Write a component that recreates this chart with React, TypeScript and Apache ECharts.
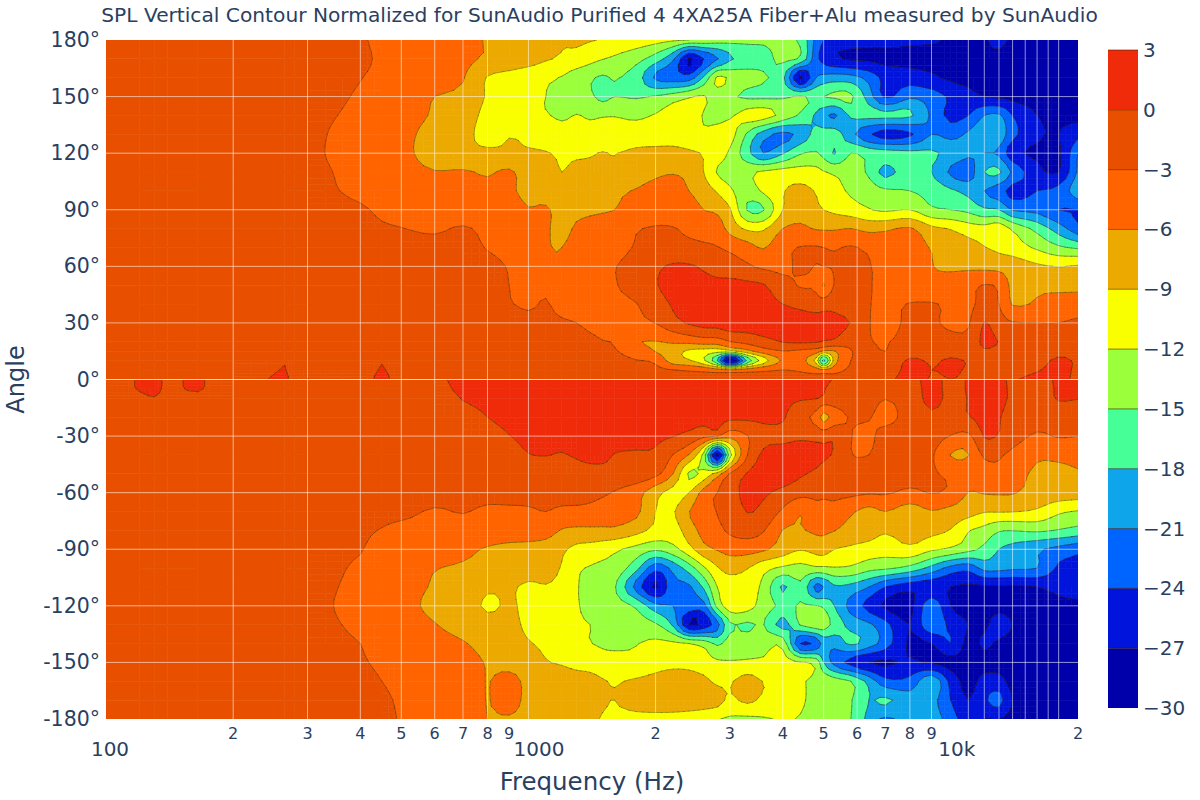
import React, { useEffect, useRef } from "react";
import * as echarts from "echarts";

const TITLE = "SPL Vertical Contour Normalized for SunAudio Purified 4 4XA25A Fiber+Alu measured by SunAudio";
const FONT = "DejaVu Sans";
const INK = "#2a3f5f";

const freqs = [100,120,130,140,165,200,265,280,300,400,450,500,
  600,700,800,900,1000,1100,1200,1300,1400,1500,1600,1800,
  2000,2200,2400,2600,2800,3000,3300,3600,4000,
  4400,4800,5000,5300,5800,6400,7000,8000,
  9000,10000,11000,12000,13000,14000,16000,18000,20000];

const angles = [180,170,160,150,140,130,120,110,100,90,80,70,60,50,40,30,20,15,10,5,0,0,-5,-10,-20,-30,-40,-50,-60,-70,-80,-90,-100,-110,-120,-130,-140,-150,-160,-170,-180];

const levels = [3,0,-3,-6,-9,-12,-15,-18,-21,-24,-27,-30];
const bandColors = ["#f02b0a","#e85000","#ff6400","#ecaa00","#faff00","#9bff3c","#46ff96","#0fa5eb","#0064ff","#0014dc","#0000aa"];

const gridFreqs = [200,300,400,500,600,700,800,1000,2000,3000,4000,5000,6000,7000,8000,9000,11000,12000,13000,14000,15000,16000,17000,18000];
const gridAngles = [-150,-120,-90,-60,-30,0,30,60,90,120,150];
const minorLabelFreqs = [200,300,400,500,600,700,800,900,2000,3000,4000,5000,6000,7000,8000,9000,20000];

const p180 = [-1.4,-1.4,-1.4,-1.4,-1.5,-1.6,-1.8,-1.9,-2,-2.8,-3.5,-4.2, -5,-5.6,-6.1,-6.6,-7.2,-7.8,-8.8,-8.5,-8.8,-9.2,-9.6, -10.2,-10.8,-11.5,-12,-12.6,-13.4,-14,-14.4,-14.6, -14.6,-15.5,-22,-24,-25.5,-25.8,-26,-26, -26.4,-26.8,-27.2,-27.5,-27.2,-26.5,-27.3,-27.6,-27.6,-27.8];
const p170 = [-1.4,-1.4,-1.4,-1.4,-1.5,-1.6,-1.8,-1.9,-2,-2.7,-3.3,-4, -4.7,-5.4,-6.4,-7.1,-7.8,-8.7,-9.4,-10,-11,-11.9,-12.5, -14,-16.5,-20.5,-27.2,-24,-21.2,-18.5,-16.5,-15.8, -14.5,-15.5,-23,-25,-26.5,-27.3,-27.6,-27.8, -27.8,-27.5,-27,-27.5,-27.3,-27.5,-27.7,-27.8,-28,-28];
const p160 = [-1.4,-1.4,-1.4,-1.4,-1.5,-1.6,-1.8,-1.9,-2.1,-2.95,-3.4,-3.8, -4.6,-5.8,-9.2,-10,-10.8,-11.5,-12.2,-13.6,-14.6,-15.4,-14.8, -16.5,-21.5,-22.5,-22.5,-17.5,-11.5,-12.5,-13.8,-14.7, -17,-27.5,-21,-20,-19.5,-19.8,-22,-24.8, -25.5,-26.5,-27.5,-27.8,-28,-28,-28,-28,-28,-28];
const p150 = [-1.4,-1.4,-1.4,-1.4,-1.5,-1.6,-1.9,-2,-2.2,-3.2,-3.7,-4.5, -6,-6.8,-9.3,-10.3,-11.3,-12,-12.8,-13.5,-14.5,-15.8,-15, -15.3,-14.7,-13.5,-12.3,-11.8,-13.5,-14.5,-15.5,-15.6, -15.4,-14.8,-15.5,-15,-14.5,-14.5,-19.5,-24.5, -21.5,-22.5,-24.5,-26,-27,-27.5,-27.8,-28,-28,-28];
const p140 = [-1.5,-1.5,-1.5,-1.5,-1.6,-1.7,-2,-2.2,-2.4,-3.5,-4.2,-4.9, -6.3,-7.6,-9.8,-10.8,-11.7,-11.8,-12.5,-11.9,-12.4,-12.2,-12.1, -12.4,-11.8,-10.6,-10.5,-12.2,-13,-12.4,-10.8,-10.6, -13,-15.5,-18.5,-20,-21.5,-17.5,-17,-17, -17.5,-21.5,-24.8,-24,-21,-20.5,-24,-27,-27.5,-27.8];
const p130 = [-1.5,-1.5,-1.5,-1.5,-1.6,-1.7,-2.1,-2.3,-2.5,-3.9,-4.6,-5.3, -6.9,-8.2,-9.8,-9.1,-9.5,-10,-10.5,-10.7,-10.8,-10.6,-11, -11,-10.5,-10,-10.5,-11.5,-10.8,-10.8,-15.5,-19.5, -21.8,-20,-17,-16.8,-16.5,-20,-23.5,-25.5, -24.5,-21,-22,-20.5,-19,-19,-23,-26.5,-27,-25];
const p120 = [-1.5,-1.5,-1.5,-1.5,-1.6,-1.8,-2.2,-2.4,-2.6,-3.9,-4.7,-5.4, -7,-8.3,-8.5,-8.6,-8.8,-8.9,-9.3,-9.4,-9.2,-8.9,-9.1, -8.3,-8.2,-8.3,-8.6,-9.2,-10.5,-12.5,-17,-21, -18.3,-15.3,-14.8,-16,-18.2,-15,-16,-16.5, -17,-17.5,-19,-20.5,-21,-21.5,-26,-27.5,-27.5,-21];
const p110 = [-1.5,-1.5,-1.5,-1.5,-1.6,-1.8,-2.2,-2.3,-2.5,-3.6,-4.3,-5, -5.9,-5.7,-6.3,-5.6,-7.5,-8,-9,-8.3,-8.4,-8.5,-8.5, -7.5,-6.6,-6.2,-6.8,-9,-12.2,-13,-12.7,-11.5, -10.8,-10.8,-11,-11.8,-12.5,-13.5,-15.5,-19, -16,-18,-21.5,-22.5,-18,-17.5,-21.5,-26,-27,-20.5];
const p100 = [-1.5,-1.5,-1.5,-1.5,-1.6,-1.7,-2.1,-2.2,-2.4,-3.4,-3.9,-4.3, -4.8,-5.2,-5.4,-5.7,-6.6,-7.2,-7.8,-7,-6.8,-6.6,-6.5, -5.8,-5,-4.8,-6,-7.5,-9.3,-11.5,-13.5,-11.5, -9.2,-8.2,-9.2,-9.8,-10.8,-12.5,-13.5,-14.5, -15,-16,-17.5,-19,-21,-22.5,-25,-24,-23,-19];
const p90 = [-1.5,-1.5,-1.5,-1.5,-1.6,-1.7,-2,-2.1,-2.2,-2.8,-3.3,-3.7, -4,-4.3,-4.6,-5,-5.9,-5.7,-7,-6.8,-6.5,-6.3,-6, -4.9,-4.3,-4.1,-4.5,-6,-6.6,-8.7,-15.2,-15.2, -9,-7,-8.5,-9,-9.6,-10.5,-11.8,-12.5, -12,-14.5,-15,-15.8,-17.5,-18,-21.2,-22,-24,-24];
const p80 = [-1.5,-1.5,-1.5,-1.5,-1.6,-1.7,-2,-2.1,-2.2,-2.6,-2.8,-2.95, -3.3,-2.8,-3.5,-3.7,-5.2,-5.6,-7,-5.5,-4.8,-4.5,-4.4, -3.2,-2.8,-2.9,-3.4,-3.9,-4.5,-7,-9.5,-9.4, -6,-5.5,-6.2,-6.3,-6.3,-6,-6.8,-6.5, -5.7,-8.2,-9.2,-10.5,-10.8,-10,-12.5,-16,-19.5,-23];
const p70 = [-1.5,-1.5,-1.5,-1.5,-1.5,-1.6,-1.8,-1.8,-1.9,-2.1,-2.2,-2.3, -2.3,-2.4,-3.1,-3.5,-3.8,-5.7,-6,-4.6,-4.2,-4,-3.9, -2.8,-2.5,-2.4,-2.4,-2.6,-2.9,-3.6,-4.8,-6.2, -3.8,-2.9,-2.8,-3,-3.2,-2.8,-3.5,-4, -4.6,-6.2,-6.8,-7.8,-8.9,-9.6,-10.5,-12.5,-14.5,-15.5];
const p60 = [-1.5,-1.5,-1.5,-1.5,-1.5,-1.6,-1.7,-1.8,-1.8,-2,-2,-2.1, -2.2,-2.3,-2.5,-3.1,-3.4,-5,-5.6,-4,-3.8,-3.6,-3.1, -2,-0.6,0.4,0.3,-0.4,-1.2,-1.7,-2.6,-3.6, -3.6,-2.6,-3.1,-3,-2.8,-2.5,-2.9,-3.7, -4.5,-5.9,-6.5,-6.6,-6.8,-7,-7.4,-8.5,-9.1,-8.7];
const p50 = [-1.5,-1.5,-1.5,-1.5,-1.5,-1.6,-1.7,-1.7,-1.8,-1.9,-2,-2, -2.1,-2.3,-2.4,-3,-3.2,-3.4,-3.6,-3.7,-3.6,-3.5,-3.2, -1.7,-0.2,1,1,0.8,0.7,0.8,0.6,0.2, -2,-3.2,-3.5,-6.2,-2.8,-2.2,-2.8,-3.9, -4.5,-5.3,-4.5,-3.8,-2.9,-3.5,-6.7,-6.5,-7,-6.9];
const p40 = [-1.5,-1.5,-1.5,-1.5,-1.5,-1.5,-1.6,-1.7,-1.7,-1.9,-1.9,-2, -2,-2.1,-2.4,-2.9,-3.2,-2.9,-3.5,-3.7,-3.8,-3.8,-3.6, -3.1,-1.4,0.3,1,1.1,1.3,1.2,1,1, 0,-0.9,-1.7,-1.3,-0.9,-2,-2.9,-3.5, -2.9,-2.8,-3.5,-3.6,-2.2,-3,-6.2,-5.6,-4.5,-4.4];
const p30 = [-1.5,-1.5,-1.5,-1.5,-1.5,-1.5,-1.6,-1.6,-1.7,-1.8,-1.8,-1.9, -1.9,-2,-2.2,-2.3,-2.5,-2.6,-2.8,-3,-3.3,-3.5,-3.5, -3.6,-2.9,-1,0.3,1,1.1,1.5,1.5,1.6, 1.7,1.7,1.7,1.2,0.8,-0.1,-2.9,-3.5, -2.7,-2.7,-3.4,-3.3,0.1,-1.7,-2.8,-3,-3,-2.6];
const p20 = [-1.4,-1.4,-1.4,-1.4,-1.4,-1.5,-1.5,-1.6,-1.6,-1.7,-1.7,-1.8, -1.8,-1.9,-2,-2.1,-2.1,-2.2,-2.3,-2.5,-2.7,-2.95,-3.2, -5.7,-6.1,-5.6,-5.2,-4.6,-4.5,-3.1,-2.2,-1, 0.1,0.4,0.2,-0.2,-0.5,-2.2,-2.9,-3.1, -2.4,-2,-2.2,-2,0.6,-0.1,-1.3,-2.2,-2,-1.8];
const p15 = [-1.4,-1.4,-1.4,-1.4,-1.4,-1.5,-1.3,-1.5,-1.3,-1.6,-1.2,-1.7, -1.7,-1.8,-1.9,-1.9,-2,-2,-2.1,-2.3,-2.4,-2.6,-2.8, -4.3,-6.1,-7.7,-9.5,-10.2,-10.8,-10,-7,-4.5, -3.1,-3.6,-4.5,-6.5,-6.2,-3.1,-2.6,-3, -1.5,-1.2,-1,-1.2,-0.3,-0.9,-1.6,-1.9,-1,-1.1];
const p10 = [-1.4,-1.4,-1.4,-1.3,-1.3,-1.4,-0.2,-1.4,-0.1,-1.5,-0.2,-1.6, -1.6,-1.6,-1.7,-1.7,-1.8,-1.8,-1.9,-2,-2.1,-2.2,-2.3, -2.9,-3.6,-7.5,-8.7,-11.5,-18,-30,-17,-10.5, -5.5,-5,-10,-19,-7.5,-3,-2.3,-2.2, 0.4,-0.3,0.3,-0.2,-1.1,-2,-2,-1.1,0.5,-0.4];
const p5 = [-1.3,-1.3,-1.2,-1.2,-1.1,-1.2,0.1,-1,-0.3,-1.3,0.2,-1.3, -1.3,-1.3,-1.4,-1.4,-1.5,-1.5,-1.5,-1.6,-1.7,-1.7,-1.8, -2,-2.3,-2.9,-3.3,-3.7,-4.5,-5.3,-4.2,-3.5, -3,-3.4,-4.5,-5.2,-4.2,-2.4,-1.7,-1.5, 0.7,0,0.2,-0.2,-1,-1.5,-1.2,-0.2,0.7,-0.5];
const p0 = [-1.2,-1.1,-1,-1,-0.9,-0.9,0.3,-0.6,0.05,-1,0.5,-1, -1,-1,-1.1,-1.1,-1.1,-1.2,-1.2,-1.2,-1.2,-1.2,-1.2, -1.2,-1.2,-1.3,-1.3,-1.3,-1.3,-1.3,-1.2,-1.2, -1.1,-1.1,-1.1,-1.1,-1.1,-1.1,-1,-0.7, 1,-0.2,0,-0.3,-1,-1,-0.3,0.8,0.8,-0.7];
const n0 = [-1.2,0.2,0.9,-0.5,0.4,-2,-1.5,-1.4,-1.4,-1.3,-1.2,-1.1, -0.8,1.2,1.6,1.7,1.8,1.8,1.9,1.9,1.9,1.9,1.9, 1.8,1.8,1.7,1.7,1.7,1.6,1.6,1.5,1.5, 1.4,1.3,1.2,0.4,-0.1,-1,-1.2,-1.2, -0.8,0.7,-0.6,0.2,1.5,0.8,-0.6,-1,0.4,0.6];
const n5 = [-1.4,0.15,0.6,-0.5,0.25,-1.8,-1.6,-1.5,-1.5,-1.5,-1.4,-1.4, -1.3,0.8,1.3,1.5,1.6,1.7,1.8,1.8,1.8,1.8,1.8, 1.7,1.7,1.6,1.6,1.5,1.4,1.4,1.3,1.2, 1,0.8,0.7,0.1,-0.5,-1.1,-1.4,-1.5, -1.1,0.7,-0.6,0.2,1.6,0.9,-0.5,-1.1,0.3,0.4];
const n10 = [-1.7,-0.6,-0.15,-0.8,-0.7,-1.6,-1.7,-1.7,-1.7,-1.7,-1.6,-1.6, -1.9,0.2,0.8,1.2,1.4,1.5,1.6,1.6,1.6,1.6,1.6, 1.6,1.5,1.5,1.4,1.3,1.2,1.1,1,0.8, 0.6,0.3,0.1,-0.5,-1.2,-1.3,-1.7,-2.9, -1.5,0.7,-0.6,0.1,1.8,0.9,-0.5,-1.2,0.2,0.1];
const n20 = [-1.8,-1.8,-1.8,-1.8,-1.8,-1.8,-1.8,-1.8,-1.8,-1.9,-1.9,-1.9, -2,-1.3,0,1,1.3,1.4,1.5,1.5,1.5,1.4,1.4, 1.3,1.2,1.1,1,0.9,0.8,0.7,0.6,0.5, 0.3,-2,-4,-7,-4.5,-2.8,-2.8,-4, -1.7,-0.5,-1.1,-0.2,1,0.2,-1.2,-1.8,-1.5,-2];
const n30 = [-1.8,-1.8,-1.8,-1.8,-1.8,-1.9,-1.9,-1.9,-1.9,-2,-2,-2.1, -2.2,-2,-1.5,-0.1,0.7,1,1.1,1.2,1.2,1.1,1, 0.9,0.5,0.1,-0.8,-2.2,-2.9,-5,-3.1,-0.9, -0.7,-0.5,-0.8,-1,-0.5,-2.9,-3.6,-1.7, -1.7,-1.6,-3.1,-3.6,0.2,-0.2,-1.7,-3.4,-2.8,-3];
const n40 = [-1.9,-1.9,-1.9,-1.9,-1.9,-1.9,-2,-2,-2,-2.1,-2.2,-2.2, -2.4,-2.2,-2,-1.2,-0.1,0.1,-0.2,0.4,0.9,0.7,-0.1, -0.3,-0.5,-3.1,-6.2,-13,-28,-13,-3,0.5, 1.3,1.4,1,0.4,-0.3,-2.9,-3,-1.9, -2,-2.6,-6.1,-6.1,-2.5,-2.7,-3.7,-5.5,-5.3,-5];
const n50 = [-1.9,-1.9,-1.9,-1.9,-1.9,-2,-2,-2,-2.1,-2.2,-2.3,-2.3, -2.4,-2.3,-2.2,-2,-1.9,-1.8,-1.7,-1.5,-1.2,-1,-1, -1,-2.2,-6,-12.4,-11,-7.5,-2.7,0.2,1.1, 1.6,0.4,-0.6,-1.3,-1.6,-1.8,-1.9,-2, -2.2,-2.7,-3.5,-4,-4.5,-3.5,-4.8,-6.5,-6.8,-6.3];
const n60 = [-1.9,-1.9,-1.9,-1.9,-1.9,-2,-2,-2,-2.1,-2.2,-2.3,-2.3, -2.3,-2.3,-2.3,-2.2,-2.2,-2.2,-2.2,-2.2,-2.4,-2.7,-3.2, -4.8,-8,-10,-9,-4.8,-3,-0.9,0.5,0.4, -0.8,-2,-2.3,-2.5,-2.5,-2.4,-2.7,-2.7, -3.5,-2.9,-3.6,-6.1,-5.8,-5.7,-5.8,-7,-7.3,-7.5];
const n70 = [-1.9,-1.9,-1.9,-1.9,-1.9,-2,-2,-2.1,-2.1,-2.4,-2.5,-2.5, -3.2,-2.9,-3.4,-3.4,-3.3,-3,-3.5,-3.6,-3.7,-4,-4.3, -5.3,-9,-9.3,-6.1,-4.2,-2.9,-1.8,0.1,-0.8, -3.5,-5.8,-4,-4,-3.8,-5.5,-7,-6, -7.5,-6.2,-7,-7.8,-8.8,-8.8,-8.9,-9.5,-11.5,-12.2];
const n80 = [-1.9,-1.9,-1.9,-1.9,-1.9,-2,-2.1,-2.1,-2.2,-2.7,-3.1,-3.6, -3.9,-3.9,-4,-4,-4,-4.6,-6.2,-6.6,-6.6,-6.6,-6.6, -8,-9.8,-10.3,-7.5,-5,-3.8,-2.5,-1.8,-2.8, -6.1,-6.2,-5.5,-5.5,-5.9,-7.3,-7.8,-8.6, -7.7,-8.2,-9.2,-11.8,-13,-14.7,-14.9,-14.5,-15.2,-16];
const n90 = [-1.9,-1.9,-1.9,-1.9,-1.9,-2,-2.1,-2.2,-2.3,-2.9,-3.8,-4.3, -4.7,-5.3,-6.3,-6.9,-7.2,-7.5,-8.5,-9.8,-10.2,-10.8,-11.5, -13,-14.5,-13,-10,-7,-5.8,-5,-4.8,-5.5, -7.5,-8.8,-8,-7.8,-9,-9.5,-10.2,-10.8, -9.8,-11.5,-12.5,-14,-15.8,-18,-19,-20.5,-22,-23];
const n100 = [-1.9,-1.9,-1.9,-1.9,-1.9,-2,-2.1,-2.2,-2.3,-3.3,-4.2,-4.9, -5.9,-6.3,-6.7,-7,-7.3,-8,-9.2,-11.5,-12.2,-12.6,-13, -17,-23,-20,-16.5,-12.5,-9.3,-8,-8.9,-11, -12.5,-13,-12.5,-12.5,-12.2,-12.5,-14,-14.5, -16,-19,-22,-23,-20,-20,-20.5,-21,-24.5,-25];
const n110 = [-1.9,-1.9,-1.9,-1.9,-1.9,-2,-2.2,-2.3,-2.4,-3.5,-4.3,-5.1, -6.2,-6.7,-8.5,-8.5,-9.6,-9.2,-10,-11.8,-12.9,-13.8,-14.7, -22,-27.5,-22,-21.5,-17.5,-12,-10.5,-10.5,-12.8, -18.5,-15.5,-22,-21,-18.5,-19,-21,-24, -26,-26,-27,-27.5,-27.5,-27.5,-27.5,-27,-26,-24.5];
const n120 = [-1.9,-1.9,-1.9,-1.9,-1.9,-2,-2.2,-2.4,-2.5,-3.6,-4.4,-5.3, -6.5,-7.5,-9.4,-8.7,-9.7,-10.8,-11.5,-11.8,-12.8,-13.3,-13.7, -15.5,-20,-21,-22,-22,-14,-10.5,-10.7,-13.5, -15.5,-14.8,-14.9,-15.5,-18,-22,-25,-27.5, -28,-22,-27,-28,-28,-28,-28,-28,-28,-28];
const n130 = [-1.9,-1.9,-1.9,-1.9,-1.9,-2,-2.2,-2.3,-2.4,-3.4,-4.2,-5, -5.9,-7,-7.8,-8.3,-9.5,-10.5,-11.3,-11.7,-12,-12.6,-13, -13.6,-14.6,-18.5,-27,-26,-22,-15.5,-15.5,-14.9, -19,-14.8,-13,-13.5,-16,-19,-20.5,-23, -27,-21.5,-25,-27,-27.5,-25.5,-27,-28,-28,-28];
const n140 = [-1.8,-1.8,-1.8,-1.8,-1.9,-1.9,-2.1,-2.2,-2.3,-3,-3.8,-4.6, -5.1,-5.8,-7,-8,-8.8,-9.6,-10.5,-11.2,-11.9,-12.4,-12.6, -12.1,-11.4,-11.4,-12,-13,-15.5,-13.5,-13,-13, -13,-24,-23,-20,-20,-17.5,-19.5,-22.5, -27.5,-27,-24,-28,-26.5,-27.5,-28,-28,-28,-28];
const n150 = [-1.8,-1.8,-1.8,-1.8,-1.8,-1.9,-2,-2.1,-2.1,-2.8,-3.4,-4, -4.5,-5,-6.2,-7,-7.5,-8.8,-9.3,-9.8,-10,-10.6,-10.8, -11.3,-10.3,-10,-10.1,-10.8,-11.5,-11.8,-11.7,-11.5, -10.8,-11.8,-13,-18,-22,-25,-27,-27.5, -26.5,-27.5,-28,-28,-28,-28,-28,-28,-28,-28];
const n160 = [-1.7,-1.7,-1.7,-1.7,-1.7,-1.8,-1.9,-2,-2,-2.4,-3,-3.5, -4,-4.6,-6.1,-5.1,-6.7,-7,-7.5,-8,-8.3,-8.8,-9.2, -8.6,-8,-7.2,-7.5,-8.3,-9.5,-9.3,-7.8,-9.1, -9.5,-11.5,-12.7,-12.8,-13.5,-15,-19,-23, -23,-18.5,-25,-28,-26,-26,-28,-28,-28,-28];
const n170 = [-1.7,-1.7,-1.7,-1.7,-1.7,-1.8,-1.9,-1.9,-1.9,-2.2,-2.7,-3.2, -3.6,-4.3,-6.1,-5,-6.7,-7,-7.5,-8,-8.2,-8.7,-9, -7.8,-7,-6.8,-7,-7.4,-8,-9.5,-8.4,-9.6, -10.2,-11.5,-13,-13.4,-13.8,-14.8,-18,-17.5, -19.5,-20,-24,-27,-24.5,-23,-27,-28,-28,-28];
const n180 = [-1.7,-1.7,-1.7,-1.7,-1.7,-1.8,-1.9,-1.9,-1.9,-2.1,-2.6,-3.1, -3.5,-4.1,-6,-6.3,-6.8,-7.2,-7.7,-8.2,-8.5,-9.2,-9.6, -10,-10.3,-10.5,-10.8,-11.2,-11.8,-12.5,-12.7,-12.3, -11.8,-12.2,-13.3,-13.5,-13.8,-15,-19,-21.5, -19.5,-19.5,-22.5,-26,-27,-27,-28,-28,-28,-28];

const rows = [p180,p170,p160,p150,p140,p130,p120,p110,p100,p90,p80,p70,p60,p50,p40,p30,p20,p15,p10,p5,p0,n0,n5,n10,n20,n30,n40,n50,n60,n70,n80,n90,n100,n110,n120,n130,n140,n150,n160,n170,n180];

const logFreqs = freqs.map((f) => Math.log10(f));
const zeroIdx = angles.indexOf(0);
const SUB = 3;

type Pt = { x: number; y: number; v: number };

function clipAt(poly: Pt[], level: number, keepAbove: boolean): Pt[] {
  const out: Pt[] = [];
  const inside = (p: Pt) => (keepAbove ? p.v >= level : p.v <= level);
  for (let i = 0; i < poly.length; i++) {
    const a = poly[i];
    const b = poly[(i + 1) % poly.length];
    const ia = inside(a);
    const ib = inside(b);
    if (ia) out.push(a);
    if (ia !== ib) {
      const t = (level - a.v) / (b.v - a.v);
      out.push({ x: a.x + t * (b.x - a.x), y: a.y + t * (b.y - a.y), v: level });
    }
  }
  return out;
}

// Contour smoothing of the drawn surface: a Hermite curve through the measured values.
function hermite(p: (i: number) => number, v: (i: number) => number, i: number, lo: number, hi: number, t: number) {
  const h = p(i + 1) - p(i);
  const d = (v(i + 1) - v(i)) / h;
  const m0 = i > lo ? (v(i + 1) - v(i - 1)) / (p(i + 1) - p(i - 1)) : d;
  const m1 = i + 1 < hi ? (v(i + 2) - v(i)) / (p(i + 2) - p(i)) : d;
  const t2 = t * t, t3 = t2 * t;
  return (2 * t3 - 3 * t2 + 1) * v(i) + (t3 - 2 * t2 + t) * h * m0 + (-2 * t3 + 3 * t2) * v(i + 1) + (t3 - t2) * h * m1;
}

function surface(c: number, r: number, tx: number, ty: number) {
  const lo = r < zeroIdx ? 0 : zeroIdx + 1;
  const hi = r < zeroIdx ? zeroIdx : angles.length - 1;
  const along = (rr: number) => hermite((i) => logFreqs[i], (i) => rows[rr][i], c, 0, freqs.length - 1, tx);
  return hermite((i) => -angles[i], along, r, lo, hi, ty);
}

function subQuads(api: any): { quads: Pt[][]; min: number; max: number } {
  const f0 = api.value(0), f1 = api.value(1), a0 = api.value(2), a1 = api.value(3);
  const c = api.value(4), r = api.value(5);
  const p0 = api.coord([f0, a0]);
  const p1 = api.coord([f1, a1]);
  const grid: Pt[][] = [];
  let min = Infinity, max = -Infinity;
  for (let j = 0; j <= SUB; j++) {
    const line: Pt[] = [];
    for (let i = 0; i <= SUB; i++) {
      const tx = i / SUB, ty = j / SUB;
      const v = surface(c, r, tx, ty);
      if (v < min) min = v;
      if (v > max) max = v;
      line.push({ x: p0[0] + tx * (p1[0] - p0[0]), y: p0[1] + ty * (p1[1] - p0[1]), v });
    }
    grid.push(line);
  }
  const quads: Pt[][] = [];
  for (let j = 0; j < SUB; j++) {
    for (let i = 0; i < SUB; i++) {
      quads.push([grid[j][i], grid[j][i + 1], grid[j + 1][i + 1], grid[j + 1][i]]);
    }
  }
  return { quads, min, max };
}

function bandOf(v: number) {
  for (let b = 0; b < bandColors.length - 1; b++) if (v >= levels[b + 1]) return b;
  return bandColors.length - 1;
}

function renderFill(_: any, api: any) {
  const { quads, min, max } = subQuads(api);
  const children: any[] = [];
  const push = (poly: Pt[], b: number) =>
    children.push({
      type: "polygon",
      shape: { points: poly.map((p) => [p.x, p.y]) },
      style: { fill: bandColors[b], stroke: bandColors[b], lineWidth: 0.6 },
      silent: true,
    });
  if (bandOf(min) === bandOf(max)) {
    const s = SUB * SUB;
    push([quads[0][0], quads[SUB - 1][1], quads[s - 1][2], quads[s - SUB][3]], bandOf(min));
    return { type: "group", children };
  }
  for (const quad of quads) {
    for (let b = 0; b < bandColors.length; b++) {
      let poly = quad;
      if (b !== bandColors.length - 1) poly = clipAt(poly, levels[b + 1], true);
      if (poly.length > 2 && b !== 0) poly = clipAt(poly, levels[b], false);
      if (poly.length >= 3) push(poly, b);
    }
  }
  return { type: "group", children };
}

function renderLines(_: any, api: any) {
  const { quads, min, max } = subQuads(api);
  const children: any[] = [];
  if (bandOf(min) === bandOf(max)) return { type: "group", children };
  for (const q of quads) {
    for (let l = 1; l < levels.length - 1; l++) {
      const level = levels[l];
      const pts: number[][] = [];
      for (let i = 0; i < 4; i++) {
        const a = q[i];
        const b = q[(i + 1) % 4];
        if (a.v >= level !== b.v >= level) {
          const t = (level - a.v) / (b.v - a.v);
          pts.push([a.x + t * (b.x - a.x), a.y + t * (b.y - a.y)]);
        }
      }
      for (let i = 0; i + 1 < pts.length; i += 2) {
        children.push({
          type: "line",
          shape: { x1: pts[i][0], y1: pts[i][1], x2: pts[i + 1][0], y2: pts[i + 1][1] },
          style: { stroke: "rgba(45,30,0,0.6)", lineWidth: 0.7, lineCap: "round" },
          silent: true,
        });
      }
    }
  }
  return { type: "group", children };
}

function renderVLine(_: any, api: any) {
  const a = api.coord([api.value(0), -180]);
  const b = api.coord([api.value(0), 180]);
  return { type: "line", shape: { x1: a[0], y1: a[1], x2: b[0], y2: b[1] }, style: { stroke: "rgba(255,255,255,0.55)", lineWidth: 1 }, silent: true };
}

function renderHLine(_: any, api: any) {
  const a = api.coord([100, api.value(1)]);
  const b = api.coord([20000, api.value(1)]);
  return { type: "line", shape: { x1: a[0], y1: a[1], x2: b[0], y2: b[1] }, style: { stroke: api.value(1) === 0 ? "rgba(255,255,255,0.8)" : "rgba(255,255,255,0.55)", lineWidth: 1 }, silent: true };
}

function renderMinorLabel(_: any, api: any) {
  const f = api.value(0);
  const digit = String(Math.round(f / Math.pow(10, Math.floor(Math.log10(f) + 1e-9))));
  const p = api.coord([f, -180]);
  return { type: "text", style: { text: digit, x: p[0], y: p[1] + 14, align: "center", verticalAlign: "middle", fontSize: 16, fontFamily: FONT, fill: INK }, silent: true };
}

function renderColorBand(_: any, api: any) {
  const a = api.coord([0, api.value(0)]);
  const b = api.coord([1, api.value(1)]);
  const fill = bandColors[api.value(2)];
  return {
    type: "group",
    children: [
      { type: "rect", shape: { x: a[0], y: b[1], width: b[0] - a[0], height: a[1] - b[1] }, style: { fill }, silent: true },
      { type: "line", shape: { x1: a[0], y1: b[1], x2: b[0], y2: b[1] }, style: { stroke: "rgba(45,30,0,0.55)", lineWidth: 1 }, silent: true },
    ],
  };
}

function buildCells() {
  const cells: number[][] = [];
  for (let r = 0; r + 1 < angles.length; r++) {
    if (angles[r] === angles[r + 1]) continue;
    for (let c = 0; c + 1 < freqs.length; c++) {
      cells.push([freqs[c], freqs[c + 1], angles[r], angles[r + 1], c, r]);
    }
  }
  return cells;
}

function App() {
  const ref = useRef<HTMLDivElement>(null);
  useEffect(() => {
    document.body.style.margin = "0";
    const chart = echarts.init(ref.current!, undefined, { renderer: "svg" });
    const cells = buildCells();
    const xSpec = { xAxisIndex: 0, yAxisIndex: 0 };
    chart.setOption({
      animation: false,
      textStyle: { fontFamily: FONT },
      title: { text: TITLE, left: 594.5, textAlign: "center", top: 0, textStyle: { fontFamily: FONT, fontSize: 20.2, fontWeight: "normal", color: INK } },
      grid: [
        { left: 106, top: 40, width: 972, height: 679, outerBoundsMode: "none" },
        { left: 1108, top: 50, width: 30, height: 658, outerBoundsMode: "none" },
      ],
      xAxis: [
        {
          type: "log", logBase: 10, min: 100, max: 20000, gridIndex: 0,
          name: "Frequency (Hz)", nameLocation: "middle", nameGap: 50,
          nameTextStyle: { fontFamily: FONT, fontSize: 24.5, color: INK },
          axisLine: { show: false }, axisTick: { show: false }, splitLine: { show: false }, minorSplitLine: { show: false },
          axisLabel: {
            margin: 20, color: INK, fontFamily: FONT, fontSize: 20, hideOverlap: false,
            formatter: (v: number) => {
              const r = Math.round(v);
              if (r === 100) return "{a|100}";
              if (r === 1000) return "{b|1000}";
              if (r === 10000) return "{c|10k}";
              return "";
            },
            rich: {
              a: { padding: [0, 0, 0, 8], fontSize: 20, fontFamily: FONT, color: INK },
              b: { padding: [0, 0, 0, 21], fontSize: 20, fontFamily: FONT, color: INK },
              c: { padding: [0, 0, 0, 12], fontSize: 20, fontFamily: FONT, color: INK },
            },
          },
        },
        { type: "value", min: 0, max: 1, gridIndex: 1, show: false },
      ],
      yAxis: [
        {
          type: "value", min: -180, max: 180, interval: 30, gridIndex: 0,
          name: "Angle", nameLocation: "middle", nameRotate: 90, nameGap: 78,
          nameTextStyle: { fontFamily: FONT, fontSize: 24, color: INK },
          axisLine: { show: false }, axisTick: { show: false }, splitLine: { show: false },
          axisLabel: { margin: 6, color: INK, fontFamily: FONT, fontSize: 20.5, formatter: (v: number) => `${v}°` },
        },
        {
          type: "value", min: -30, max: 3, interval: 3, gridIndex: 1, position: "right",
          axisLine: { show: false }, axisTick: { show: false }, splitLine: { show: false },
          axisLabel: { margin: 5, color: INK, fontFamily: FONT, fontSize: 20, formatter: (v: number) => String(v).replace("-", "\u2212") },
        },
      ],
      series: [
        { type: "custom", ...xSpec, z: 2, clip: true, silent: true, renderItem: renderFill, encode: { x: [0, 1], y: [2, 3] }, data: cells, progressive: 0 },
        { type: "custom", ...xSpec, z: 3, clip: true, silent: true, renderItem: renderLines, encode: { x: [0, 1], y: [2, 3] }, data: cells, progressive: 0 },
        { type: "custom", ...xSpec, z: 4, clip: false, silent: true, renderItem: renderVLine, encode: { x: 0, y: 1 }, data: gridFreqs.map((f) => [f, 0]) },
        { type: "custom", ...xSpec, z: 4, clip: false, silent: true, renderItem: renderHLine, encode: { x: 0, y: 1 }, data: gridAngles.map((a) => [100, a]) },
        { type: "custom", ...xSpec, z: 5, clip: false, silent: true, renderItem: renderMinorLabel, encode: { x: 0, y: 1 }, data: minorLabelFreqs.map((f) => [f, -180]) },
        {
          type: "custom", xAxisIndex: 1, yAxisIndex: 1, z: 2, silent: true, renderItem: renderColorBand,
          encode: { y: [0, 1] },
          data: bandColors.map((_, i) => [levels[i + 1], levels[i], i]),
        },
      ],
    });
    return () => chart.dispose();
  }, []);
  return <div ref={ref} style={{ position: "absolute", left: 0, top: 0, width: 1200, height: 800 }} />;
}

export default App;
